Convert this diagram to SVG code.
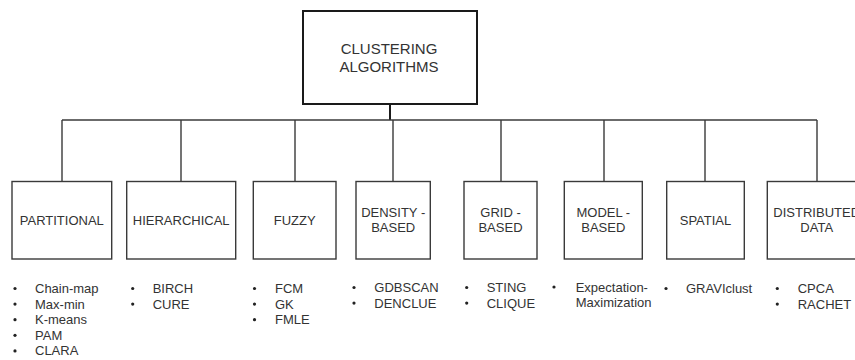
<svg xmlns="http://www.w3.org/2000/svg" width="855" height="360" viewBox="0 0 855 360">
  <style>
    .box { fill: #fff; stroke: #3a3a3a; stroke-width: 1.4; }
    .root { fill: #fff; stroke: #1a1a1a; stroke-width: 2; }
    .wire { fill: none; stroke: #3a3a3a; stroke-width: 1.4; }
    .stem { fill: none; stroke: #1a1a1a; stroke-width: 2; }
    .lbl { font-family: "Liberation Sans", Arial, sans-serif; font-size: 13px; fill: #333; text-anchor: middle; }
    .title { font-family: "Liberation Sans", Arial, sans-serif; font-size: 15px; fill: #333; text-anchor: middle; }
    .item { font-family: "Liberation Sans", Arial, sans-serif; font-size: 13px; fill: #333; }
    .dot { fill: #222; }
  </style>
  <rect width="855" height="360" fill="#fff"/>

  <!-- tree connectors -->
  <g id="connectors">
    <path class="stem" d="M390,104 V120"/>
    <path class="wire" d="M62,120 H817"/>
    <path class="wire" d="M62,120 V181.5 M181,120 V181.5 M295,120 V181.5 M393,120 V181.5 M501,120 V181.5 M604,120 V181.5 M705,120 V181.5 M817,120 V181.5"/>
  </g>

  <g id="root">
    <rect class="root" x="303" y="11" width="174" height="93"/>
    <text class="title" x="389" y="53.5">CLUSTERING</text>
    <text class="title" x="389" y="71.5">ALGORITHMS</text>
  </g>

  <g id="partitional">
    <rect class="box" x="12" y="181.5" width="99.7" height="77.5"/>
    <text class="lbl" x="61.8" y="224.5">PARTITIONAL</text>
    <g class="dot"><circle cx="15" cy="288.5" r="1.6"/><circle cx="15" cy="304.1" r="1.6"/><circle cx="15" cy="319.7" r="1.6"/><circle cx="15" cy="335.3" r="1.6"/><circle cx="15" cy="350.9" r="1.6"/></g>
    <text class="item" x="35" y="293">Chain-map</text>
    <text class="item" x="35" y="308.6">Max-min</text>
    <text class="item" x="35" y="324.2">K-means</text>
    <text class="item" x="35" y="339.8">PAM</text>
    <text class="item" x="35" y="355.4">CLARA</text>
  </g>

  <g id="hierarchical">
    <rect class="box" x="126.7" y="181.5" width="109" height="77.5"/>
    <text class="lbl" x="181.2" y="224.5">HIERARCHICAL</text>
    <g class="dot"><circle cx="132.7" cy="288.5" r="1.6"/><circle cx="132.7" cy="304.1" r="1.6"/></g>
    <text class="item" x="152.7" y="293">BIRCH</text>
    <text class="item" x="152.7" y="308.6">CURE</text>
  </g>

  <g id="fuzzy">
    <rect class="box" x="253.3" y="181.5" width="82.7" height="77.5"/>
    <text class="lbl" x="294.7" y="224.5">FUZZY</text>
    <g class="dot"><circle cx="254.5" cy="288.5" r="1.6"/><circle cx="254.5" cy="304.1" r="1.6"/><circle cx="254.5" cy="319.7" r="1.6"/></g>
    <text class="item" x="275" y="293">FCM</text>
    <text class="item" x="275" y="308.6">GK</text>
    <text class="item" x="275" y="324.2">FMLE</text>
  </g>

  <g id="density">
    <rect class="box" x="356" y="181.5" width="74.3" height="77.5"/>
    <text class="lbl" x="393.2" y="216.5">DENSITY -</text>
    <text class="lbl" x="393.2" y="232">BASED</text>
    <g class="dot"><circle cx="354" cy="287.5" r="1.6"/><circle cx="354" cy="303.1" r="1.6"/></g>
    <text class="item" x="374.3" y="292">GDBSCAN</text>
    <text class="item" x="374.3" y="307.6">DENCLUE</text>
  </g>

  <g id="grid">
    <rect class="box" x="464" y="181.5" width="73" height="77.5"/>
    <text class="lbl" x="500.5" y="216.5">GRID -</text>
    <text class="lbl" x="500.5" y="232">BASED</text>
    <g class="dot"><circle cx="466.7" cy="287.5" r="1.6"/><circle cx="466.7" cy="303.1" r="1.6"/></g>
    <text class="item" x="486.7" y="292">STING</text>
    <text class="item" x="486.7" y="307.6">CLIQUE</text>
  </g>

  <g id="model">
    <rect class="box" x="564.3" y="181.5" width="78" height="77.5"/>
    <text class="lbl" x="603.3" y="216.5">MODEL -</text>
    <text class="lbl" x="603.3" y="232">BASED</text>
    <g class="dot"><circle cx="554" cy="287" r="1.6"/></g>
    <text class="item" x="575.7" y="292">Expectation-</text>
    <text class="item" x="575.7" y="307.4">Maximization</text>
  </g>

  <g id="spatial">
    <rect class="box" x="666.7" y="181.5" width="77.6" height="77.5"/>
    <text class="lbl" x="705.5" y="224.5">SPATIAL</text>
    <g class="dot"><circle cx="666" cy="288.5" r="1.6"/></g>
    <text class="item" x="686" y="293">GRAVIclust</text>
  </g>

  <g id="distributed">
    <rect class="box" x="767.3" y="181.5" width="100" height="77.5"/>
    <text class="lbl" x="816.7" y="216.5">DISTRIBUTED</text>
    <text class="lbl" x="816.7" y="232">DATA</text>
    <g class="dot"><circle cx="777.3" cy="288.5" r="1.6"/><circle cx="777.3" cy="304.1" r="1.6"/></g>
    <text class="item" x="797.7" y="293">CPCA</text>
    <text class="item" x="797.7" y="308.6">RACHET</text>
  </g>
</svg>
